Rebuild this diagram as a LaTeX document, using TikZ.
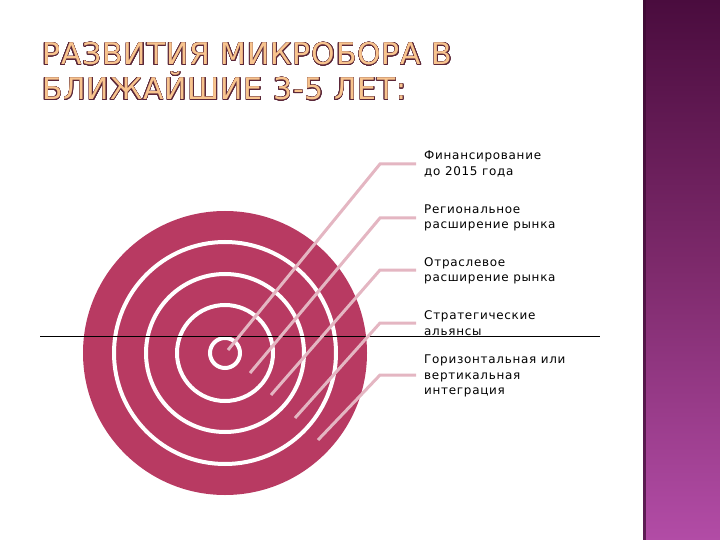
\documentclass[tikz,border=0pt]{standalone}
\usepackage{fontspec}
\setmainfont{DejaVu Sans}
\newfontfamily\labelfont[LetterSpace=6]{DejaVu Sans}
\newfontfamily\titlefont[LetterSpace=3]{DejaVu Sans}
\usepackage{contour}
\contourlength{0.45pt}
\contournumber{24}
\definecolor{target}{HTML}{B83A62}
\definecolor{leader}{HTML}{E4B6C2}
\definecolor{bartop}{HTML}{4A0C3E}
\definecolor{barmid}{HTML}{7E2A6C}
\definecolor{barbot}{HTML}{B24CA6}
\definecolor{titlefill}{HTML}{F8C48E}
\definecolor{titleline}{HTML}{5A2638}
\tikzset{
  ring/.style={draw=white, line width=4bp},
  leaderline/.style={draw=leader, line width=3bp},
  label/.style={anchor=west, align=left, inner sep=0pt, font=\labelfont\fontsize{12}{15.5}\selectfont, text=black},
  titletext/.style={anchor=base west, inner sep=0pt, font=\titlefont\fontsize{30}{36}\selectfont}
}
\begin{document}
\begin{tikzpicture}[x=1bp, y=-1bp]
\useasboundingbox (0,0) rectangle (720,540);
% right bar
\shade[top color=bartop, bottom color=barbot, middle color=barmid] (643,0) rectangle (720,540);
\fill[bartop!80!black, opacity=0.7] (643,0) rectangle (646,540);
% title
\node[titletext] (t1) at (42,65) {\contour{titleline}{\textcolor{titlefill}{РАЗВИТИЯ МИКРОБОРА В}}};
\node[titletext] (t2) at (42,100) {\contour{titleline}{\textcolor{titlefill}{БЛИЖАЙШИЕ 3-5 ЛЕТ:}}};
% target
\coordinate (c) at (225,353);
\fill[target] (c) circle (142);
\draw[ring] (c) circle (111);
\draw[ring] (c) circle (79);
\draw[ring] (c) circle (48);
\draw[ring] (c) circle (15);
% horizontal black line
\coordinate (hl) at (40,336);
\coordinate (hr) at (600,336);
\draw[black, line width=0.8bp] (hl) -- (hr);
% labels
\node[label] (l1) at (424,164) {Финансирование\\до 2015 года};
\node[label] (l2) at (424,218) {Региональное\\расширение рынка};
\node[label] (l3) at (424,271) {Отраслевое\\расширение рынка};
\node[label] (l4) at (424,323) {Стратегические\\альянсы};
\node[label] (l5) at (424,376) {Горизонтальная или\\вертикальная\\интеграция};
% leader end points
\coordinate (e1) at (228,350);
\coordinate (e2) at (250,373);
\coordinate (e3) at (271,395);
\coordinate (e4) at (295,418);
\coordinate (e5) at (318,440);
\draw[leaderline] (e1) -- (380,164) -- (416,164);
\draw[leaderline] (e2) -- (380,218) -- (416,218);
\draw[leaderline] (e3) -- (380,270) -- (416,270);
\draw[leaderline] (e4) -- (380,323) -- (416,323);
\draw[leaderline] (e5) -- (380,375) -- (416,375);
\end{tikzpicture}
\end{document}
